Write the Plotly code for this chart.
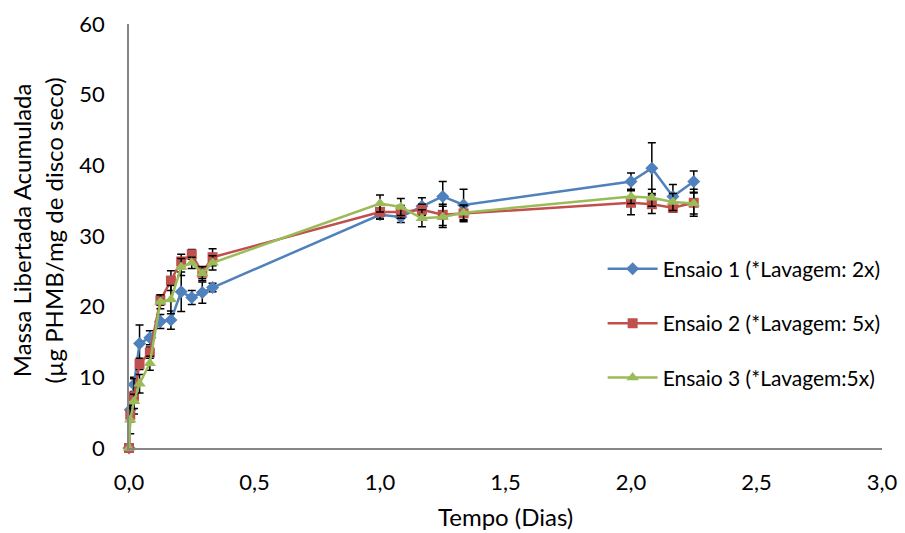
import plotly.graph_objects as go

tempo = [0, 0.005, 0.02, 0.042, 0.083, 0.125, 0.167, 0.208, 0.25, 0.292, 0.333,
         1.0, 1.083, 1.167, 1.25, 1.333, 2.0, 2.083, 2.167, 2.25]

ensaio1 = [0, 5.4, 9.0, 14.8, 15.6, 17.9, 18.1, 22.1, 21.3, 22.0, 22.7,
           33.0, 32.7, 34.2, 35.6, 34.4, 37.7, 39.6, 35.6, 37.7]
erro1 = [0, 0.8, 1.0, 2.6, 1.0, 1.0, 1.3, 2.8, 1.0, 1.5, 0.6,
         0.6, 0.8, 1.2, 2.1, 2.2, 1.2, 3.6, 1.7, 1.5]

ensaio2 = [0, 4.7, 7.3, 11.9, 13.5, 20.9, 23.7, 26.4, 27.4, 24.8, 27.0,
           33.4, 33.4, 33.7, 33.0, 33.2, 34.7, 34.5, 34.0, 34.7]
erro2 = [0, 1.0, 2.5, 0.8, 0.8, 0.7, 1.4, 1.0, 0.7, 0.8, 1.2,
         1.0, 0.9, 0.8, 1.5, 1.2, 1.7, 1.3, 0.6, 1.9]

ensaio3 = [0, 4.0, 6.6, 9.1, 12.0, 20.7, 21.0, 25.6, 26.2, 24.7, 26.2,
           34.6, 34.1, 32.5, 32.7, 33.3, 35.6, 35.4, 34.8, 34.6]
erro3 = [0, 2.0, 1.0, 1.3, 1.0, 1.0, 2.0, 1.2, 0.8, 1.0, 1.0,
         1.2, 1.2, 1.2, 1.5, 1.0, 1.0, 1.2, 1.2, 1.5]

nomes = ["Ensaio 1 (*Lavagem: 2x)", "Ensaio 2 (*Lavagem: 5x)", "Ensaio 3 (*Lavagem:5x)"]
cores = ["#4F81BD", "#C0504D", "#9BBB59"]
simbolos = ["diamond", "square", "triangle-up"]
tamanhos = [10, 10, 11]

xticks = [0, 0.5, 1.0, 1.5, 2.0, 2.5, 3.0]
yticks = [0, 10, 20, 30, 40, 50, 60]

fig = go.Figure()
for i, (ys, es) in enumerate([(ensaio1, erro1), (ensaio2, erro2), (ensaio3, erro3)]):
    fig.add_trace(go.Scatter(
        x=tempo, y=ys, name=nomes[i], mode="lines+markers",
        legendgroup=str(i), cliponaxis=False,
        line=dict(color=cores[i], width=2.5),
        marker=dict(symbol=simbolos[i], size=tamanhos[i], color=cores[i]),
        error_y=dict(type="data", array=es, visible=True, color="black",
                     thickness=1.5, width=4),
    ))

font = "Lato, 'Open Sans', sans-serif"
fig.update_layout(
    width=905, height=533,
    margin=dict(l=129, r=23, t=24, b=85),
    paper_bgcolor="white", plot_bgcolor="white",
    separators=",.",
    font=dict(family=font, size=22, color="black"),
    showlegend=True,
    legend=dict(x=0.629, y=0.47, xanchor="left", yanchor="top",
                traceorder="grouped", tracegroupgap=24,
                font=dict(size=21), itemwidth=50,
                bgcolor="rgba(0,0,0,0)"),
    xaxis=dict(range=[0, 3], tickvals=xticks, tickformat=".1f",
               showgrid=False, zeroline=False, showline=True,
               linecolor="#868686", linewidth=1.5, ticks="",
               ticklabelstandoff=14, automargin=False),
    yaxis=dict(range=[0, 60], tickvals=yticks,
               showgrid=False, zeroline=False, showline=True,
               linecolor="#868686", linewidth=1.5, ticks="",
               ticklabelstandoff=18, automargin=False),
    annotations=[
        dict(text="Tempo (Dias)", xref="paper", yref="paper",
             x=0.5, y=-0.2005, xanchor="center", yanchor="bottom",
             showarrow=False, font=dict(size=24)),
        dict(text="Massa Libertada Acumulada<br>(µg PHMB/mg de disco seco)",
             xref="paper", yref="paper", x=-0.1209, y=0.513,
             xanchor="center", yanchor="middle", textangle=-90,
             showarrow=False, font=dict(size=24)),
    ],
)

fig.write_html("out.html")
